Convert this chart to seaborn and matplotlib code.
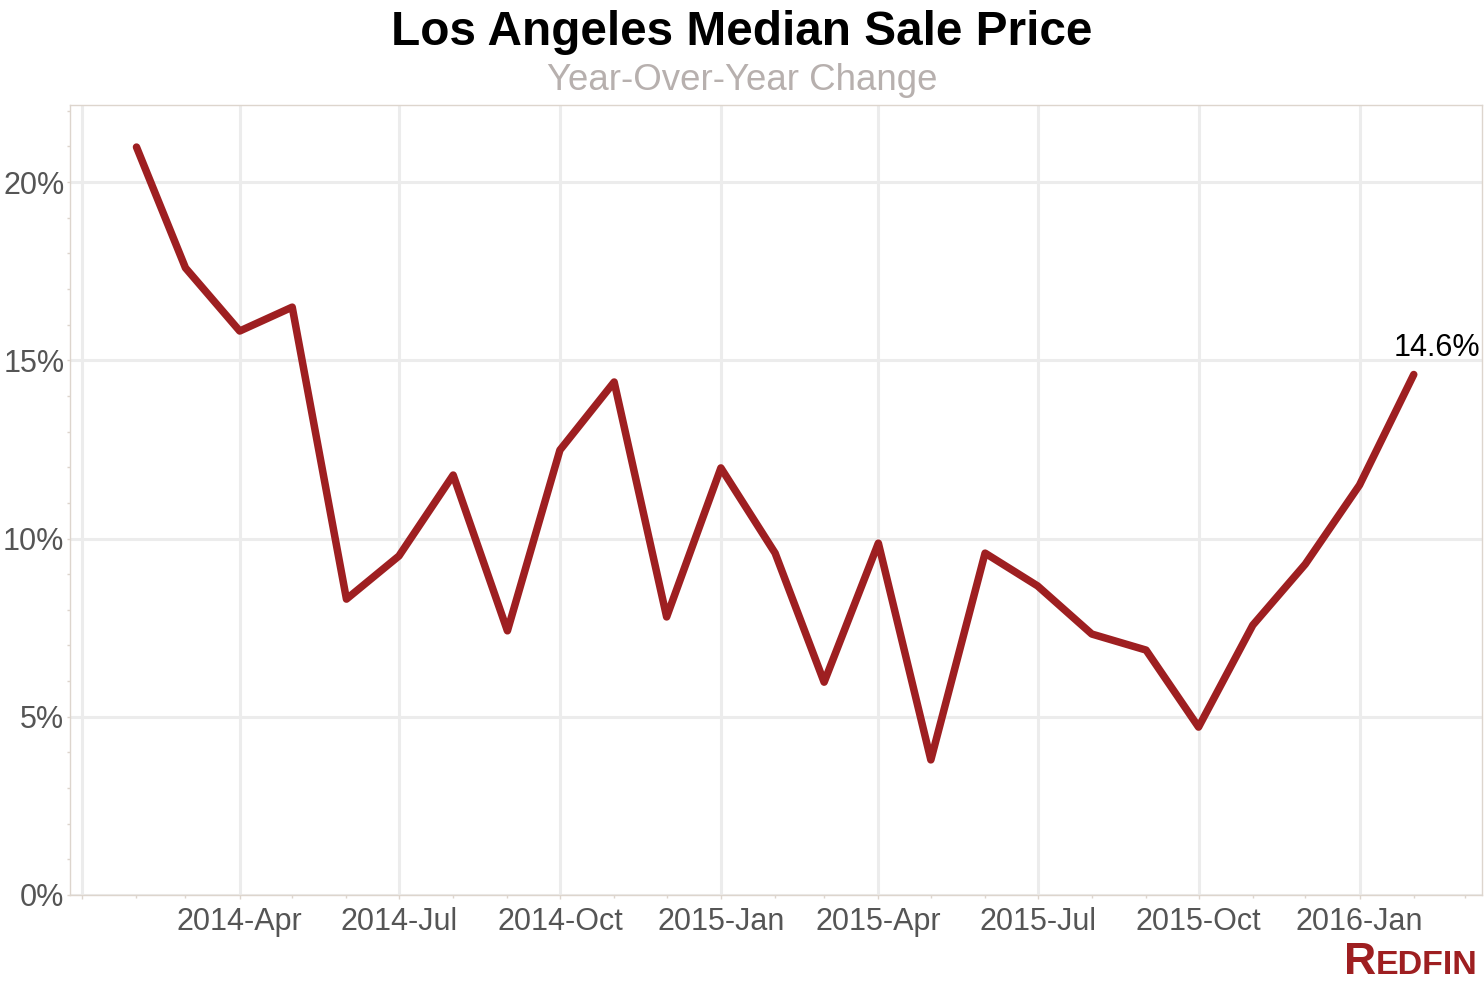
import matplotlib
matplotlib.use("Agg")
import matplotlib.pyplot as plt
import matplotlib.dates as mdates
from matplotlib.ticker import FixedLocator, MultipleLocator
import seaborn as sns
import pandas as pd

# ---- data ----
months = ["2014-02", "2014-03", "2014-04", "2014-05", "2014-06", "2014-07",
          "2014-08", "2014-09", "2014-10", "2014-11", "2014-12", "2015-01",
          "2015-02", "2015-03", "2015-04", "2015-05", "2015-06", "2015-07",
          "2015-08", "2015-09", "2015-10", "2015-11", "2015-12", "2016-01",
          "2016-02"]
yoy_change = [20.98, 17.59, 15.82, 16.49, 8.30, 9.51, 11.78, 7.41, 12.48,
              14.39, 7.80, 11.98, 9.59, 5.97, 9.87, 3.79, 9.59, 8.67, 7.32,
              6.87, 4.71, 7.57, 9.28, 11.50, 14.60]
quarter_ticks = ["2014-01-01", "2014-04-01", "2014-07-01", "2014-10-01",
                 "2015-01-01", "2015-04-01", "2015-07-01", "2015-10-01",
                 "2016-01-01"]
quarter_labels = ["", "2014-Apr", "2014-Jul", "2014-Oct", "2015-Jan",
                  "2015-Apr", "2015-Jul", "2015-Oct", "2016-Jan"]
ytick_values = [0, 5, 10, 15, 20]
ytick_labels = ["0%", "5%", "10%", "15%", "20%"]
last_label = "14.6%"
title = "Los Angeles Median Sale Price"
subtitle = "Year-Over-Year Change"

LINE = "#9e1f21"
SPINE = "#ddd5cd"
GRID = "#ececec"
TICKTXT = "#555555"

sns.set_theme(style="white")
plt.rcParams["font.family"] = ["Liberation Sans", "DejaVu Sans"]

W, H = 1484, 984
fig = plt.figure(figsize=(W / 100, H / 100), dpi=100)
ax = fig.add_axes([70 / W, 1 - 895 / H, (1482 - 70) / W, (895 - 105) / H])

df = pd.DataFrame({"month": pd.to_datetime(months), "yoy": yoy_change})
sns.lineplot(data=df, x="month", y="yoy", ax=ax, color=LINE, linewidth=5.4,
             solid_capstyle="round", solid_joinstyle="round", zorder=3)

ax.set_xlim(pd.Timestamp("2013-12-25"), pd.Timestamp("2016-03-11"))
ax.set_ylim(0, 22.16)

ax.xaxis.set_major_locator(FixedLocator(mdates.date2num(pd.to_datetime(quarter_ticks))))
ax.xaxis.set_minor_locator(mdates.MonthLocator())
ax.set_xticklabels(quarter_labels)
ax.yaxis.set_major_locator(FixedLocator(ytick_values))
ax.yaxis.set_minor_locator(MultipleLocator(1))
ax.set_yticklabels(ytick_labels)

ax.tick_params(axis="both", which="major", direction="out", length=3,
               width=1, color=SPINE, labelsize=22, labelcolor=TICKTXT)
ax.tick_params(axis="both", which="minor", direction="out", length=2.5,
               width=1, color=SPINE)
ax.tick_params(axis="x", which="major", pad=5.5)
ax.tick_params(axis="y", which="major", length=2, pad=2)
ax.tick_params(axis="both", which="both", bottom=True, left=True)

for s in ax.spines.values():
    s.set_color(SPINE)
    s.set_linewidth(1)
    s.set_visible(True)

ax.set_axisbelow(True)
ax.grid(True, which="major", color=GRID, linewidth=2.2)
ax.set_xlabel("")
ax.set_ylabel("")

ax.annotate(last_label, xy=(df["month"].iloc[-1], df["yoy"].iloc[-1]),
            xytext=(17, 8), textcoords="offset points", ha="center",
            va="bottom", fontsize=22, color="black", annotation_clip=False)

fig.text(0.5, 1 - 45 / H, title, ha="center", va="baseline", fontsize=34.4,
         fontweight="bold", color="black")
fig.text(0.5, 1 - 90 / H, subtitle, ha="center", va="baseline", fontsize=26.4,
         color="#b7b0ae")

fig.text(1344 / W, 10 / H, "R", ha="left", va="baseline", fontsize=32,
         fontweight="bold", color=LINE)
fig.text(1376 / W, 10 / H, "EDFIN", ha="left", va="baseline", fontsize=24.5,
         fontweight="bold", color=LINE)

fig.savefig("out.png", dpi=100)
